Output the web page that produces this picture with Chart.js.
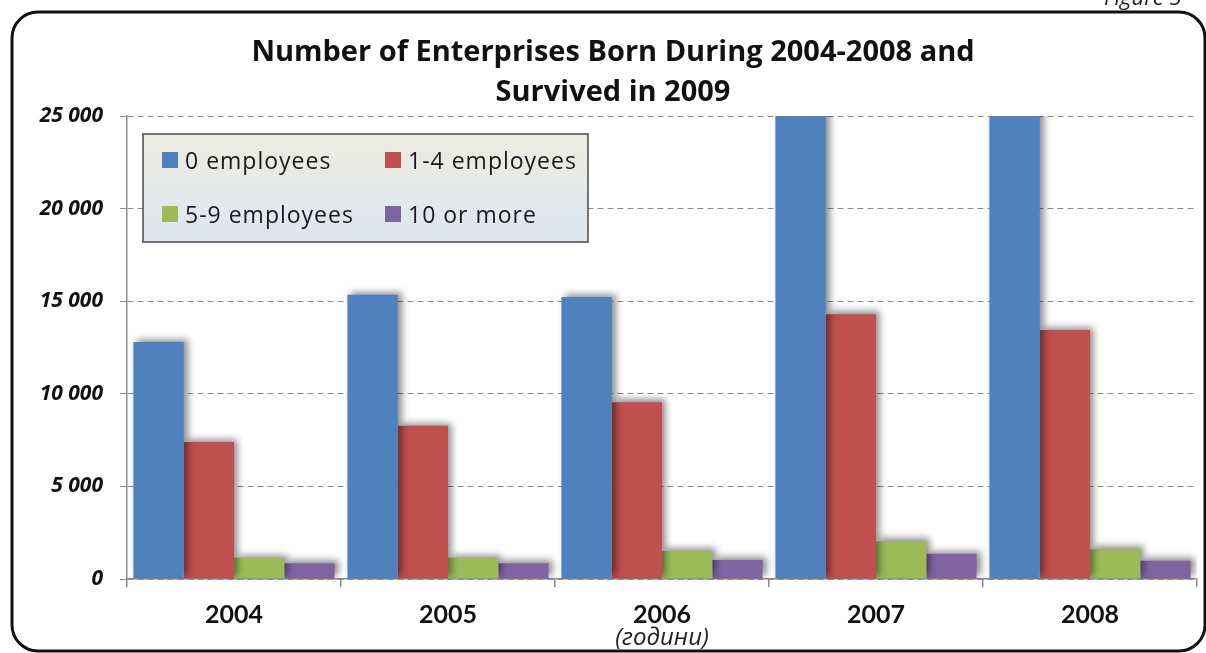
<!DOCTYPE html>
<html lang="en">
<head>
  <meta charset="UTF-8" />
  <title>Enterprises Born 2004-2008</title>
  <script src="https://cdn.jsdelivr.net/npm/chart.js"></script>
  <style>
    body { margin: 0; background: #fff; }
    #wrap { width: 1206px; height: 653px; position: relative; }
  </style>
</head>
<body>
<div id="wrap"><canvas id="chart"></canvas></div>
<script>
  // values (2007/2008 blue bars run past the top of the axis)
  const years = ['2004', '2005', '2006', '2007', '2008'];
  const seriesNames = ['0 employees', '1-4 employees', '5-9 employees', '10 or more'];
  const zeroEmp = [12800, 15350, 15230, 28000, 27500];
  const oneToFour = [7400, 8280, 9550, 14300, 13450];
  const fiveToNine = [1150, 1150, 1510, 2030, 1600];
  const tenPlus = [850, 850, 1030, 1370, 990];
  const yTicks = [0, 5000, 10000, 15000, 20000, 25000];
  const colors = ['#4f81bd', '#c0504d', '#9bbb59', '#8064a2'];
  const titleLines = ['Number of Enterprises Born During 2004-2008 and', 'Survived in 2009'];

  // frame, title and the cut-off figure caption
  const framePlugin = {
    id: 'frame',
    beforeDraw(chart) {
      const ctx = chart.ctx;
      ctx.save();
      ctx.fillStyle = '#fff';
      ctx.fillRect(0, 0, chart.width, chart.height);
      ctx.beginPath();
      ctx.roundRect(12, 12, chart.width - 13, chart.height - 14, 26);
      ctx.lineWidth = 3;
      ctx.strokeStyle = '#111';
      ctx.stroke();
      ctx.font = 'italic 22px "Open Sans"';
      ctx.fillStyle = '#222';
      ctx.textBaseline = 'alphabetic';
      ctx.fillText('Figure 5', chart.width - 102, 5);

      ctx.font = 'bold 29px "Open Sans"';
      ctx.fillStyle = '#111';
      ctx.textAlign = 'center';
      ctx.textBaseline = 'middle';
      titleLines.forEach((t, i) => ctx.fillText(t, 613, 53 + i * 40));
      ctx.restore();
    }
  };

  const shadowPlugin = {
    id: 'barShadow',
    beforeDatasetsDraw(chart) {
      const c = chart.ctx;
      c.save();
      c.shadowColor = 'rgba(0,0,0,0.45)';
      c.shadowBlur = 7;
      c.shadowOffsetX = 4;
      c.shadowOffsetY = -3;
    },
    afterDatasetsDraw(chart) {
      chart.ctx.restore();
    }
  };

  const boxLegend = {
    id: 'boxLegend',
    afterDraw(chart) {
      const ctx = chart.ctx;
      const x = 143, y = 134, w = 445, h = 108;
      ctx.save();
      const g = ctx.createLinearGradient(0, y, 0, y + h);
      g.addColorStop(0, '#eeece1');
      g.addColorStop(1, '#dde6f1');
      ctx.fillStyle = g;
      ctx.fillRect(x, y, w, h);
      ctx.lineWidth = 1.5;
      ctx.strokeStyle = '#4a4a4a';
      ctx.strokeRect(x, y, w, h);
      ctx.font = '23px "Open Sans"';
      ctx.letterSpacing = '1px';
      ctx.textBaseline = 'middle';
      chart.data.datasets.forEach((ds, i) => {
        const col = i % 2, row = Math.floor(i / 2);
        const mx = x + 19 + col * 223;
        const my = y + 26 + row * 54;
        ctx.fillStyle = ds.backgroundColor;
        ctx.fillRect(mx, my - 8, 16, 16);
        ctx.fillStyle = '#1a1a1a';
        ctx.fillText(ds.label, mx + 23, my + 2);
      });
      ctx.restore();
    }
  };

  const seriesValues = [zeroEmp, oneToFour, fiveToNine, tenPlus];

  new Chart(document.getElementById('chart'), {
    type: 'bar',
    data: {
      labels: years,
      datasets: seriesNames.map((name, i) => ({
        label: name,
        data: seriesValues[i],
        backgroundColor: colors[i],
        borderWidth: 0,
        categoryPercentage: 0.94,
        barPercentage: 1.0
      }))
    },
    options: {
      responsive: true,
      maintainAspectRatio: false,
      animation: false,
      layout: { padding: { top: 116, right: 9, left: 0, bottom: 0 } },
      plugins: {
        legend: { display: false },
        tooltip: { enabled: false },
        title: { display: false }
      },
      scales: {
        x: {
          grid: { offset: true, drawOnChartArea: false, tickLength: 8, color: '#8c8c8c', lineWidth: 1.5 },
          border: { color: '#8c8c8c', width: 1.5 },
          ticks: { font: { family: 'Lato', size: 25, weight: 'bold' }, color: '#111', padding: 13 },
          title: {
            display: true,
            text: '(години)',
            font: { family: 'Open Sans', size: 24, style: 'italic' },
            color: '#222',
            padding: { top: 0, bottom: 0 }
          },
          afterFit(s) { s.height = 74; }
        },
        y: {
          min: 0,
          max: 25000,
          afterBuildTicks(s) { s.ticks = yTicks.map(v => ({ value: v })); },
          ticks: {
            callback: v => String(v).replace(/\B(?=(\d{3})+(?!\d))/g, ' '),
            font: { family: 'Open Sans', size: 21, weight: 'bold', style: 'italic' },
            color: '#111',
            padding: 17
          },
          grid: { color: '#8c8c8c', tickLength: 7, lineWidth: 1, tickBorderDash: [] },
          border: { color: '#8c8c8c', width: 1.5, dash: [6, 4] },
          afterFit(s) { s.width = 127; }
        }
      }
    },
    plugins: [framePlugin, shadowPlugin, boxLegend]
  });
</script>
</body>
</html>
